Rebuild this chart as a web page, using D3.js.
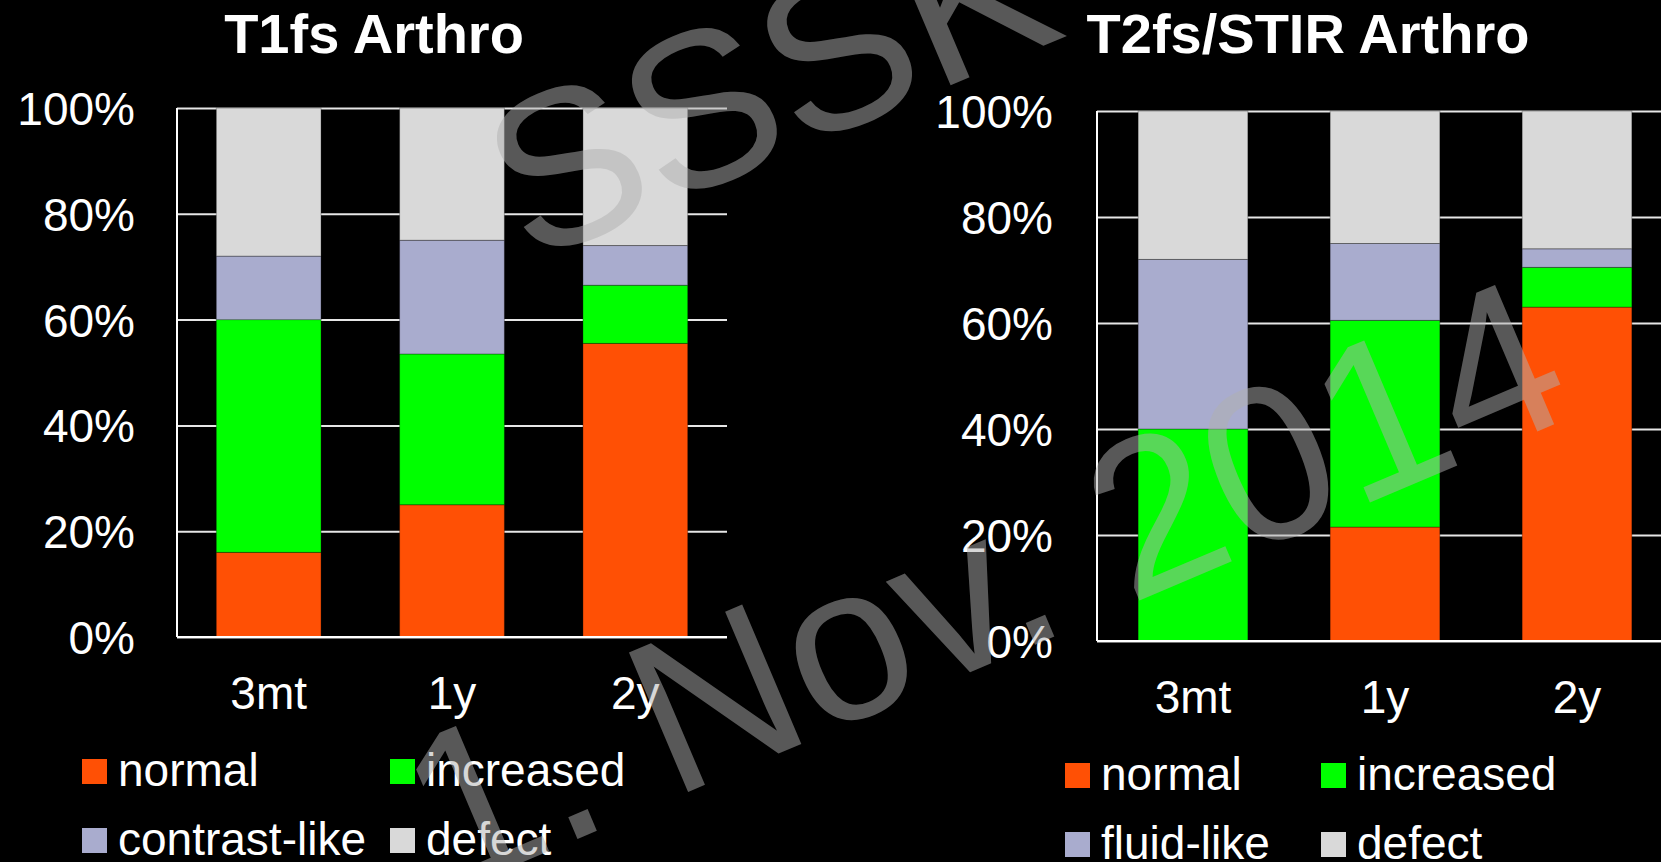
<html>
<meta charset="utf-8" />
<head>
<title>Arthro follow-up</title>
<script src="https://cdn.jsdelivr.net/npm/d3@7"></script>
<style>
	body { margin: 0; background: #000; }
	svg { display: block; }
	text { font-family: "Liberation Sans", Arial, sans-serif; fill: #fff; }
</style>
<script>
// categories and tick labels
const categories = ['3mt', '1y', '2y'];
const yTicks = [0, 20, 40, 60, 80, 100];

// T1fs Arthro, percent per category
const t1Normal = [16, 25, 55.5];
const t1Increased = [44, 28.5, 11];
const t1Contrast = [12, 21.5, 7.5];
const t1Defect = [28, 25, 26];

// T2fs/STIR Arthro, percent per category
const t2Normal = [0, 21.5, 63];
const t2Increased = [40, 39, 7.5];
const t2Fluid = [32, 14.5, 3.5];
const t2Defect = [28, 25, 26];

const colors = ['#ff5005', '#00ff00', '#a9acce', '#d9d9d9'];

window.onload = function() {
	let svg = d3.select('svg');

	function barChart(opt) {
		let keys = ['a', 'b', 'c', 'd'];
		let rows = categories.map((c, i) => ({
			cat: c, a: opt.series[0][i], b: opt.series[1][i], c: opt.series[2][i], d: opt.series[3][i]
		}));
		let stacked = d3.stack().keys(keys)(rows);

		let xScale = d3.scaleBand().domain(categories)
			.range([opt.left, opt.left + opt.width])
			.paddingInner(0.4286).paddingOuter(0.2143);
		let yScale = d3.scaleLinear().domain([0, 100]).range([opt.bottom, opt.top]);

		let g = svg.append('g');

		// 가로 눈금선
		let grid = d3.axisLeft(yScale).tickValues(yTicks).tickSize(-opt.width).tickFormat('');
		g.append('g').attr('transform', `translate(${opt.left},0)`).call(grid)
			.call(s => s.select('.domain').remove())
			.selectAll('line').attr('stroke', '#e6e6e6').attr('stroke-width', 2);

		// 막대
		g.selectAll('g.layer').data(stacked).enter()
			.append('g').attr('class', 'layer')
			.attr('fill', (d, i) => colors[i])
			.selectAll('rect').data(d => d).enter()
			.append('rect')
			.attr('x', d => xScale(d.data.cat))
			.attr('width', xScale.bandwidth())
			.attr('y', d => yScale(d[1]))
			.attr('height', d => yScale(d[0]) - yScale(d[1]))
			.attr('stroke', 'rgba(0,0,0,0.3)')
			.attr('stroke-width', 1);

		// 축선
		g.append('line').attr('x1', opt.left).attr('x2', opt.left)
			.attr('y1', opt.top).attr('y2', opt.bottom)
			.attr('stroke', '#fff').attr('stroke-width', 2);
		g.append('line').attr('x1', opt.left).attr('x2', opt.left + opt.width)
			.attr('y1', opt.bottom).attr('y2', opt.bottom)
			.attr('stroke', '#fff').attr('stroke-width', 2);

		// y 라벨
		let yAxis = d3.axisLeft(yScale).tickValues(yTicks).tickSize(0)
			.tickPadding(opt.labelPad).tickFormat(d => d + '%');
		g.append('g').attr('transform', `translate(${opt.left},0)`).call(yAxis)
			.call(s => s.select('.domain').remove())
			.selectAll('text')
			.attr('fill', '#fff').attr('dy', '0.36em')
			.style('font-size', '46px').style('font-family', '"Liberation Sans", Arial, sans-serif');

		// x 라벨
		g.selectAll('text.cat').data(categories).enter()
			.append('text').attr('class', 'cat')
			.attr('x', d => xScale(d) + xScale.bandwidth() / 2)
			.attr('y', opt.bottom + 72)
			.attr('text-anchor', 'middle')
			.style('font-size', '46px')
			.text(d => d);

		// 제목
		g.append('text').attr('x', opt.titleX).attr('y', 53)
			.attr('text-anchor', 'middle')
			.style('font-size', '56px').style('font-weight', 'bold')
			.text(opt.title);

		// 범례
		let leg = g.selectAll('g.leg').data(opt.legend).enter()
			.append('g').attr('class', 'leg')
			.attr('transform', (d, i) => `translate(${opt.legX[i % 2]},${opt.legY[Math.floor(i / 2)]})`);
		leg.append('rect').attr('width', 25).attr('height', 25)
			.attr('fill', (d, i) => colors[i]);
		leg.append('text').attr('x', 36).attr('y', 27)
			.style('font-size', '46px')
			.text(d => d);
	}

	barChart({
		title: 'T1fs Arthro', titleX: 374,
		series: [t1Normal, t1Increased, t1Contrast, t1Defect],
		legend: ['normal', 'increased', 'contrast-like', 'defect'],
		left: 177, width: 550, top: 108, bottom: 637, labelPad: 42,
		legX: [82, 390], legY: [759, 828]
	});

	barChart({
		title: 'T2fs/STIR Arthro', titleX: 1308,
		series: [t2Normal, t2Increased, t2Fluid, t2Defect],
		legend: ['normal', 'increased', 'fluid-like', 'defect'],
		left: 1097, width: 576, top: 111, bottom: 641, labelPad: 44,
		legX: [1065, 1321], legY: [763, 832]
	});

	// 워터마크
	let wm = svg.append('g')
		.attr('transform', 'translate(1013,654) rotate(-23)')
		.style('opacity', 0.5);
	wm.append('text').attr('x', 0).attr('y', -548)
		.attr('text-anchor', 'middle')
		.style('font-size', '220px').style('fill', '#b0b0b0')
		.text('SSSK');
	wm.append('text').attr('x', 0).attr('y', 0)
		.attr('text-anchor', 'middle')
		.style('font-size', '220px').style('fill', '#b0b0b0')
		.text('1. Nov. 2014');
}
</script>
</head>
<body>
	<svg width="1661" height="862"></svg>
</body>
</html>
